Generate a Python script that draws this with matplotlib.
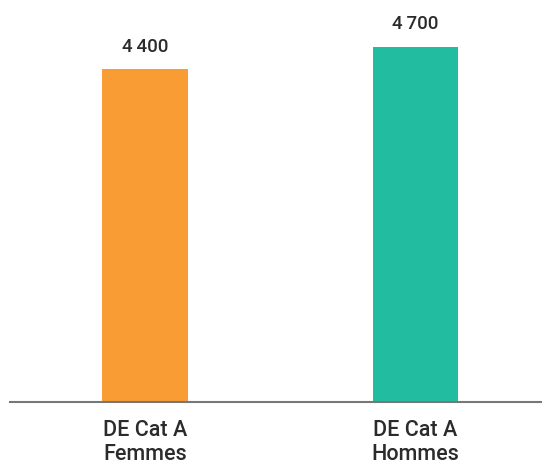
import matplotlib
matplotlib.use('Agg')
import matplotlib.pyplot as plt

# Demandeurs d'emploi catégorie A par sexe
categories = ['DE Cat A\nFemmes', 'DE Cat A\nHommes']
values = [4400, 4700]
value_labels = ['4\u2009400', '4\u2009700']
colors = ['#F89C33', '#22BDA0']

plt.rcParams['font.family'] = ['Roboto', 'DejaVu Sans']
text_color = '#2b2b2b'

fig = plt.figure(figsize=(5.42, 4.66), dpi=100)
ax = fig.add_axes([10 / 542, 63.7 / 466, 532 / 542, 402.3 / 466])

x = range(len(categories))
bars = ax.bar(x, values, width=0.315, color=colors, linewidth=0)

# Value labels above each bar
for bar, label in zip(bars, value_labels):
    ax.annotate(label, (bar.get_x() + bar.get_width() / 2, bar.get_height()),
                xytext=(0, 12.7), textcoords='offset points',
                ha='center', va='baseline', fontsize=13.5,
                fontweight='medium', color=text_color)

ax.set_xlim(-0.5, 1.47)
ax.set_ylim(0, 5316)
ax.set_xticks(list(x))
ax.set_xticklabels(categories, fontsize=15.5, fontweight='medium',
                   color=text_color, linespacing=1.15)
ax.tick_params(axis='x', length=0, pad=13)
ax.set_yticks([])

for side in ['top', 'right', 'left']:
    ax.spines[side].set_visible(False)
ax.spines['bottom'].set_color('#777777')
ax.spines['bottom'].set_linewidth(1.5)

fig.savefig('out.png', dpi=100, facecolor='white')
